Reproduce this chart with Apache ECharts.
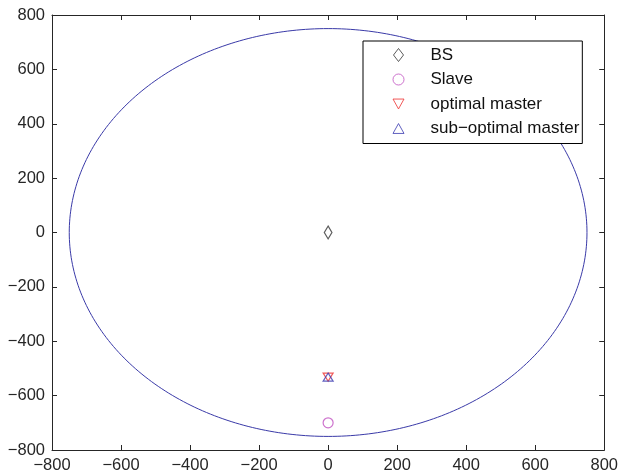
<!DOCTYPE html>
<html>
<head>
<meta charset="utf-8">
<script src="https://cdn.jsdelivr.net/npm/echarts@6/dist/echarts.min.js"></script>
<style>
html,body{margin:0;padding:0;background:#fff;}
#chart{width:621px;height:476px;}
</style>
</head>
<body>
<div id="chart"></div>
<script>
// ---- data ----
const axisMin = -800;
const axisMax = 800;
const axisInterval = 200;
const seriesNames = ['BS', 'Slave', 'optimal master', 'sub\u2212optimal master'];
const bsPoint = [[0, 0]];
const slavePoint = [[0, -700]];
const optimalMasterPoint = [[0, -532]];
const subOptimalMasterPoint = [[0, -532]];
const cellCircle = [[0, 0, 750]]; // centre x, centre y, radius

// ---- chart ----
const FONT = '"Liberation Sans", Arial, Helvetica, sans-serif';
const AX = '#262626';
const fmt = v => String(v).replace('-', '\u2212');

const chart = echarts.init(document.getElementById('chart'));

function axisCommon(showLabel) {
  return {
    type: 'value', min: axisMin, max: axisMax, interval: axisInterval,
    axisLine: {show: true, onZero: false, lineStyle: {color: AX, width: 1}},
    axisTick: {show: true, inside: true, length: 5, lineStyle: {color: AX, width: 1}},
    axisLabel: {show: showLabel, color: AX, fontFamily: FONT, fontSize: 16.5, margin: 7, formatter: fmt},
    splitLine: {show: false}
  };
}

const hollow = (c, w) => ({color: 'rgba(0,0,0,0)', borderColor: c, borderWidth: w || 1});

chart.setOption({
  animation: false,
  backgroundColor: '#fff',
  grid: {left: 52, right: 16, top: 15, bottom: 26, containLabel: false},
  xAxis: [
    Object.assign(axisCommon(true), {position: 'bottom'}),
    Object.assign(axisCommon(false), {position: 'top'})
  ],
  yAxis: [
    Object.assign(axisCommon(true), {position: 'left'}),
    Object.assign(axisCommon(false), {position: 'right'})
  ],
  legend: {
    data: seriesNames,
    orient: 'vertical',
    left: 363, top: 41,
    padding: [5.5, 3, 6.5, 29.5],
    itemGap: 7.5,
    itemWidth: 11, itemHeight: 13,
    borderColor: '#000', borderWidth: 1,
    backgroundColor: '#fff',
    itemStyle: {borderWidth: 1},
    formatter: name => '{g|}{t|' + name + '}',
    textStyle: {
      fontFamily: FONT, fontSize: 17, color: '#111',
      rich: {
        g: {width: 21.5},
        t: {fontFamily: FONT, fontSize: 17, color: '#111'}
      }
    },
    selectedMode: false
  },
  series: [
    {
      type: 'custom', name: 'cell', data: cellCircle, silent: true, z: 1,
      renderItem: function (params, api) {
        const cx = api.value(0), cy = api.value(1), r = api.value(2);
        const pts = [];
        const n = 360;
        for (let i = 0; i <= n; i++) {
          const t = i / n * Math.PI * 2;
          pts.push(api.coord([cx + r * Math.cos(t), cy + r * Math.sin(t)]));
        }
        return {type: 'polyline', shape: {points: pts},
          style: {stroke: '#3a3aa8', lineWidth: 1, fill: null}};
      }
    },
    {type: 'scatter', name: seriesNames[0], data: bsPoint, z: 3,
      symbol: 'path://M5,0 L10,6.5 L5,13 L0,6.5 Z', symbolSize: [10, 13], symbolKeepAspect: true,
      itemStyle: hollow('#333', 1.2)},
    {type: 'scatter', name: seriesNames[1], data: slavePoint, z: 3,
      symbol: 'circle', symbolSize: 10,
      itemStyle: hollow('#c050c0', 1.2)},
    {type: 'scatter', name: seriesNames[2], data: optimalMasterPoint, z: 3,
      symbol: 'path://M0,0 L10,0 L5,9 Z', symbolSize: [10, 9], symbolKeepAspect: true,
      itemStyle: hollow('#ee3030', 1.2)},
    {type: 'scatter', name: seriesNames[3], data: subOptimalMasterPoint, z: 4,
      symbol: 'path://M5,0 L10,9 L0,9 Z', symbolSize: [10, 9], symbolKeepAspect: true,
      itemStyle: hollow('#3a3ab0', 1.2)}
  ]
});
</script>
</body>
</html>
